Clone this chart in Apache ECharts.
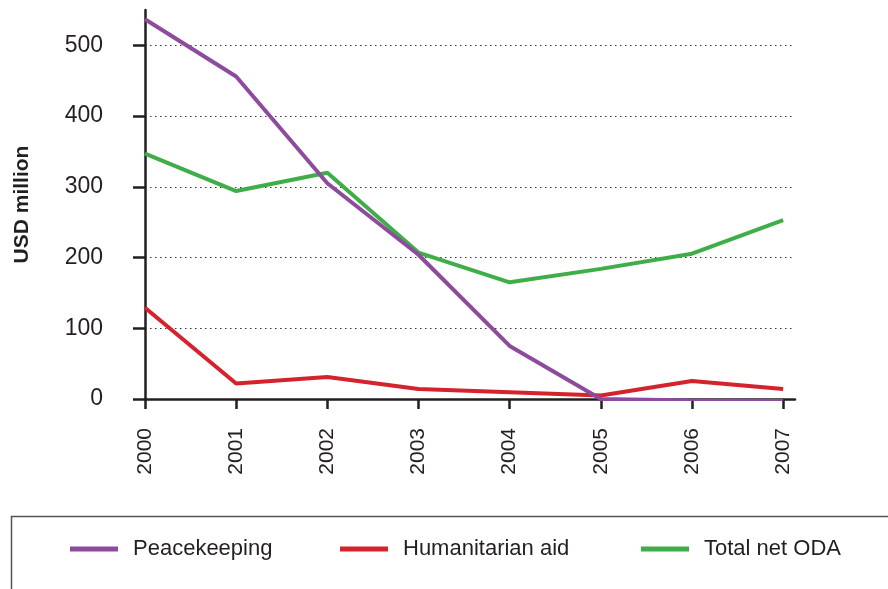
<!DOCTYPE html>
<html>
<head>
<meta charset="utf-8">
<script src="https://cdn.jsdelivr.net/npm/echarts@6/dist/echarts.min.js"></script>
<style>html,body{margin:0;padding:0;background:#fff}#c{width:888px;height:589px}</style>
</head>
<body>
<div id="c"></div>
<script>
const years = [2000, 2001, 2002, 2003, 2004, 2005, 2006, 2007];
const peacekeeping = [537, 456, 305, 204, 75, 0, -2, -3];
const humanitarian = [129, 22, 31, 14, 9.5, 5, 25.5, 14];
const totalODA = [347, 294, 320, 207, 165, 184, 205.5, 253];
const yTicks = [0, 100, 200, 300, 400, 500];
const seriesNames = ['Peacekeeping', 'Humanitarian aid', 'Total net ODA'];
const colors = ['#8e4b9d', '#d4232c', '#3fae49'];

const chart = echarts.init(document.getElementById('c'));
const pairs = arr => years.map((y, i) => [y, arr[i]]);
const ink = '#231f20';
const font = 'Liberation Sans, Arial, sans-serif';

function mkSeries(name, data, color) {
  return {
    name, type: 'line', data: pairs(data), symbol: 'none',
    lineStyle: { color, width: 4 }, itemStyle: { color },
    animation: false
  };
}
function mkLegend(name, left) {
  return {
    data: [name], left, top: 538, itemWidth: 48, itemHeight: 5,
    icon: 'rect', itemGap: 0, padding: 0,
    textStyle: { fontFamily: font, fontSize: 22, color: ink, padding: [0, 0, 0, 10] }
  };
}

chart.setOption({
  animation: false,
  grid: { left: 145, right: 93, top: 10, bottom: 190 },
  xAxis: {
    type: 'value', min: 2000, max: 2007.13,
    axisLine: { show: true, onZero: false, lineStyle: { color: ink, width: 2.5 } },
    axisTick: { show: true, length: 10, lineStyle: { color: ink, width: 2.5 }, customValues: years },
    axisLabel: { rotate: 90, margin: 29, fontFamily: font, fontSize: 21, color: ink, customValues: years, formatter: v => String(v) },
    splitLine: { show: false }
  },
  yAxis: {
    type: 'value', min: 0, max: 550,
    name: 'USD million', nameLocation: 'middle', nameGap: 112,
    nameTextStyle: { fontFamily: font, fontWeight: 'bold', fontSize: 21, color: ink },
    axisLine: { show: true, lineStyle: { color: ink, width: 2.5 } },
    axisTick: { show: true, length: 12, lineStyle: { color: ink, width: 2.5 }, customValues: yTicks },
    axisLabel: { margin: 42, fontFamily: font, fontSize: 23, color: ink, customValues: yTicks },
    splitLine: { show: true, showMinLine: false, showMaxLine: true, lineStyle: { color: '#333', type: [1.5, 3.5], width: 1 } }
  },
  legend: [mkLegend(seriesNames[0], 70), mkLegend(seriesNames[1], 340), mkLegend(seriesNames[2], 641)],
  graphic: [{
    type: 'rect', left: 9, top: 514, silent: true,
    shape: { width: 900, height: 100 },
    style: { fill: 'none', stroke: '#555', lineWidth: 1.5 }
  }],
  series: [
    mkSeries(seriesNames[1], humanitarian, colors[1]),
    mkSeries(seriesNames[2], totalODA, colors[2]),
    mkSeries(seriesNames[0], peacekeeping, colors[0])
  ]
});
</script>
</body>
</html>
